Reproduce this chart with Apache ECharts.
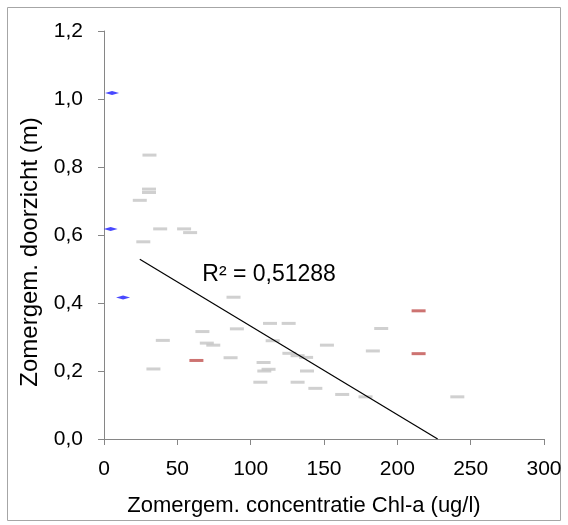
<!DOCTYPE html>
<html><head><meta charset="utf-8">
<script src="https://cdn.jsdelivr.net/npm/echarts@6/dist/echarts.min.js"></script>
<style>html,body{margin:0;padding:0;background:#fff}#c{width:568px;height:525px}</style>
</head><body><div id="c"></div>
<script>
var grayPoints = [[31,0.835],[30.7,0.735],[30.7,0.725],[24.4,0.702],[38.3,0.618],[54.6,0.618],[58.7,0.607],[26.8,0.580],[88.3,0.417],[40.1,0.290],[67.1,0.316],[70.1,0.282],[74.5,0.276],[90.6,0.324],[86.3,0.239],[33.7,0.206],[113.2,0.340],[125.9,0.340],[115,0.289],[189,0.325],[152,0.276],[126.4,0.252],[132,0.245],[137.8,0.240],[183.3,0.259],[108.8,0.225],[112.2,0.205],[109.3,0.200],[138.4,0.200],[106.6,0.167],[132,0.167],[144.1,0.149],[162.4,0.131],[178.3,0.124],[240.9,0.124]];
var bluePoints = [[5.5,1.018],[4.5,0.618],[13,0.416]];
var redPoints = [[63,0.231],[214.5,0.377],[214.5,0.251]];
var trendLine = [[24.4,0.529],[227.5,0]];
var r2Label = 'R² = 0,51288';
var r2Position = [67,0.483];
var xTitle = 'Zomergem. concentratie Chl-a (ug/l)';
var yTitle = 'Zomergem. doorzicht (m)';

var chart = echarts.init(document.getElementById('c'));
var axisCol = '#868686';
var font = 'Liberation Sans, Arial, sans-serif';
chart.setOption({
  animation:false,
  grid:{left:104,top:31,right:24,bottom:86,containLabel:false},
  graphic:[{type:'rect',shape:{x:7.5,y:7.5,width:553,height:513},style:{fill:'none',stroke:'#a6a6a6',lineWidth:1}}],
  xAxis:{type:'value',min:0,max:300,interval:50,
    name:xTitle,nameLocation:'middle',nameGap:56,
    nameTextStyle:{fontFamily:font,fontSize:22,color:'#000',padding:[0,40,0,0]},
    axisLine:{lineStyle:{color:axisCol}},axisTick:{inside:false,length:6,lineStyle:{color:axisCol}},
    axisLabel:{fontFamily:font,fontSize:21,color:'#000',margin:20},
    splitLine:{show:false}},
  yAxis:{type:'value',min:0,max:1.2,interval:0.2,
    name:yTitle,nameLocation:'middle',nameGap:62,
    nameTextStyle:{fontFamily:font,fontSize:24,color:'#000',padding:[0,34,0,0]},
    axisLine:{show:true,lineStyle:{color:axisCol}},axisTick:{show:true,length:6,lineStyle:{color:axisCol}},
    axisLabel:{fontFamily:font,fontSize:21,color:'#000',margin:21,formatter:function(v){return v.toFixed(1).replace('.',',');}},
    splitLine:{show:false}},
  series:[
    {type:'scatter',data:grayPoints,symbol:'rect',symbolSize:[14,3],itemStyle:{color:'#c4c4c4'},z:3},
    {type:'scatter',data:bluePoints,symbol:'diamond',symbolSize:[14,4],itemStyle:{color:'#1a1aff'},z:3},
    {type:'scatter',data:redPoints,symbol:'rect',symbolSize:[14,3],itemStyle:{color:'#c0504d'},z:3},
    {type:'line',data:trendLine,symbol:'none',lineStyle:{color:'#000',width:1.2},z:4,
      markPoint:{symbol:'circle',symbolSize:0,data:[{coord:r2Position,label:{show:true,formatter:r2Label,fontFamily:font,fontSize:23,color:'#000',position:'inside',align:'left',offset:[0,0]}}]}}
  ]
});
</script></body></html>
